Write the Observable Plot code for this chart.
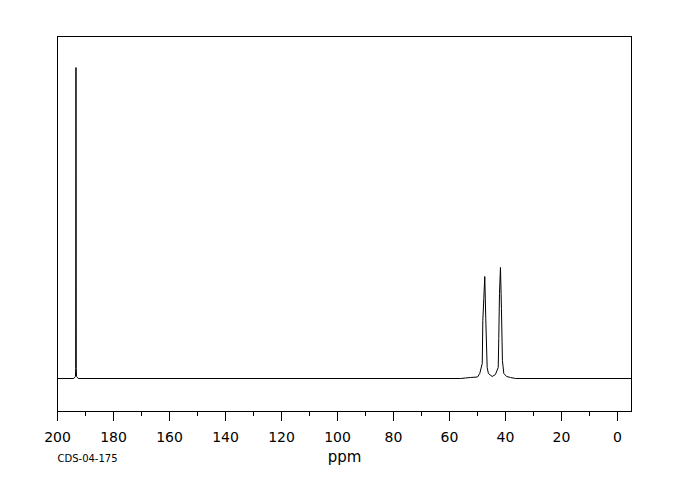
<!DOCTYPE html>
<html>
<head>
<meta charset="utf-8">
<script src="https://cdn.jsdelivr.net/npm/d3@7"></script>
<script src="https://cdn.jsdelivr.net/npm/@observablehq/plot@0.6"></script>
<style>
  html, body { margin: 0; padding: 0; background: #fff; }
  #chart svg { display: block; }
</style>
</head>
<body>
<div id="chart"></div>
<script>
// Spectrum samples (chemical shift in ppm, intensity in arbitrary units)
const ppm = [
  200, 194.2, 193.6, 193.5, 193.4, 193.3, 193.2, 192.6,
  56, 54.3, 52.5, 50.0, 49.2, 48.3, 48.1, 47.75, 47.4, 47.05, 46.55, 46.1, 44.75,
  43.6, 42.6, 42.4, 42.15, 41.8, 41.45, 41.1, 40.6, 39.6, 38.2, 36.4, -5
];
const intensity = [
  0, 0, 2, 10, 311, 10, 2, 0,
  0, 0.5, 1, 1.5, 5, 15, 58, 80, 102, 60, 11, 5, 2,
  4, 11, 40, 85, 111, 70, 18, 5, 2, 1, 0, 0
];
const majorTicks = [200, 180, 160, 140, 120, 100, 80, 60, 40, 20, 0];
const minorTicks = [190, 170, 150, 130, 110, 90, 70, 50, 30, 10];
const xLabel = "ppm";
const sampleId = "CDS-04-175";

const spectrum = ppm.map((p, i) => ({ppm: p, intensity: intensity[i]}));

const chart = Plot.plot({
  width: 680,
  height: 500,
  marginLeft: 57,
  marginRight: 49,
  marginTop: 36,
  marginBottom: 89,
  style: {fontFamily: "DejaVu Sans", fontSize: "14px", color: "black", background: "white"},
  x: {domain: [200, -5]},
  y: {domain: [-33, 342], axis: null},
  marks: [
    Plot.frame({stroke: "black"}),
    Plot.line(spectrum, {x: "ppm", y: "intensity", stroke: "black", strokeWidth: 1}),
    Plot.axisX({ticks: majorTicks, tickSize: 10, tickPadding: 11, tickFormat: d => String(d), label: null, fontSize: 14}),
    Plot.axisX({ticks: minorTicks, tickSize: 5, tickFormat: () => "", label: null}),
    Plot.text([xLabel], {frameAnchor: "bottom", dy: 50, fontSize: 15, text: d => d}),
    Plot.text([sampleId], {frameAnchor: "bottom-left", textAnchor: "start", dy: 50, fontSize: 10, text: d => d})
  ]
});
document.getElementById("chart").appendChild(chart);
</script>
</body>
</html>
